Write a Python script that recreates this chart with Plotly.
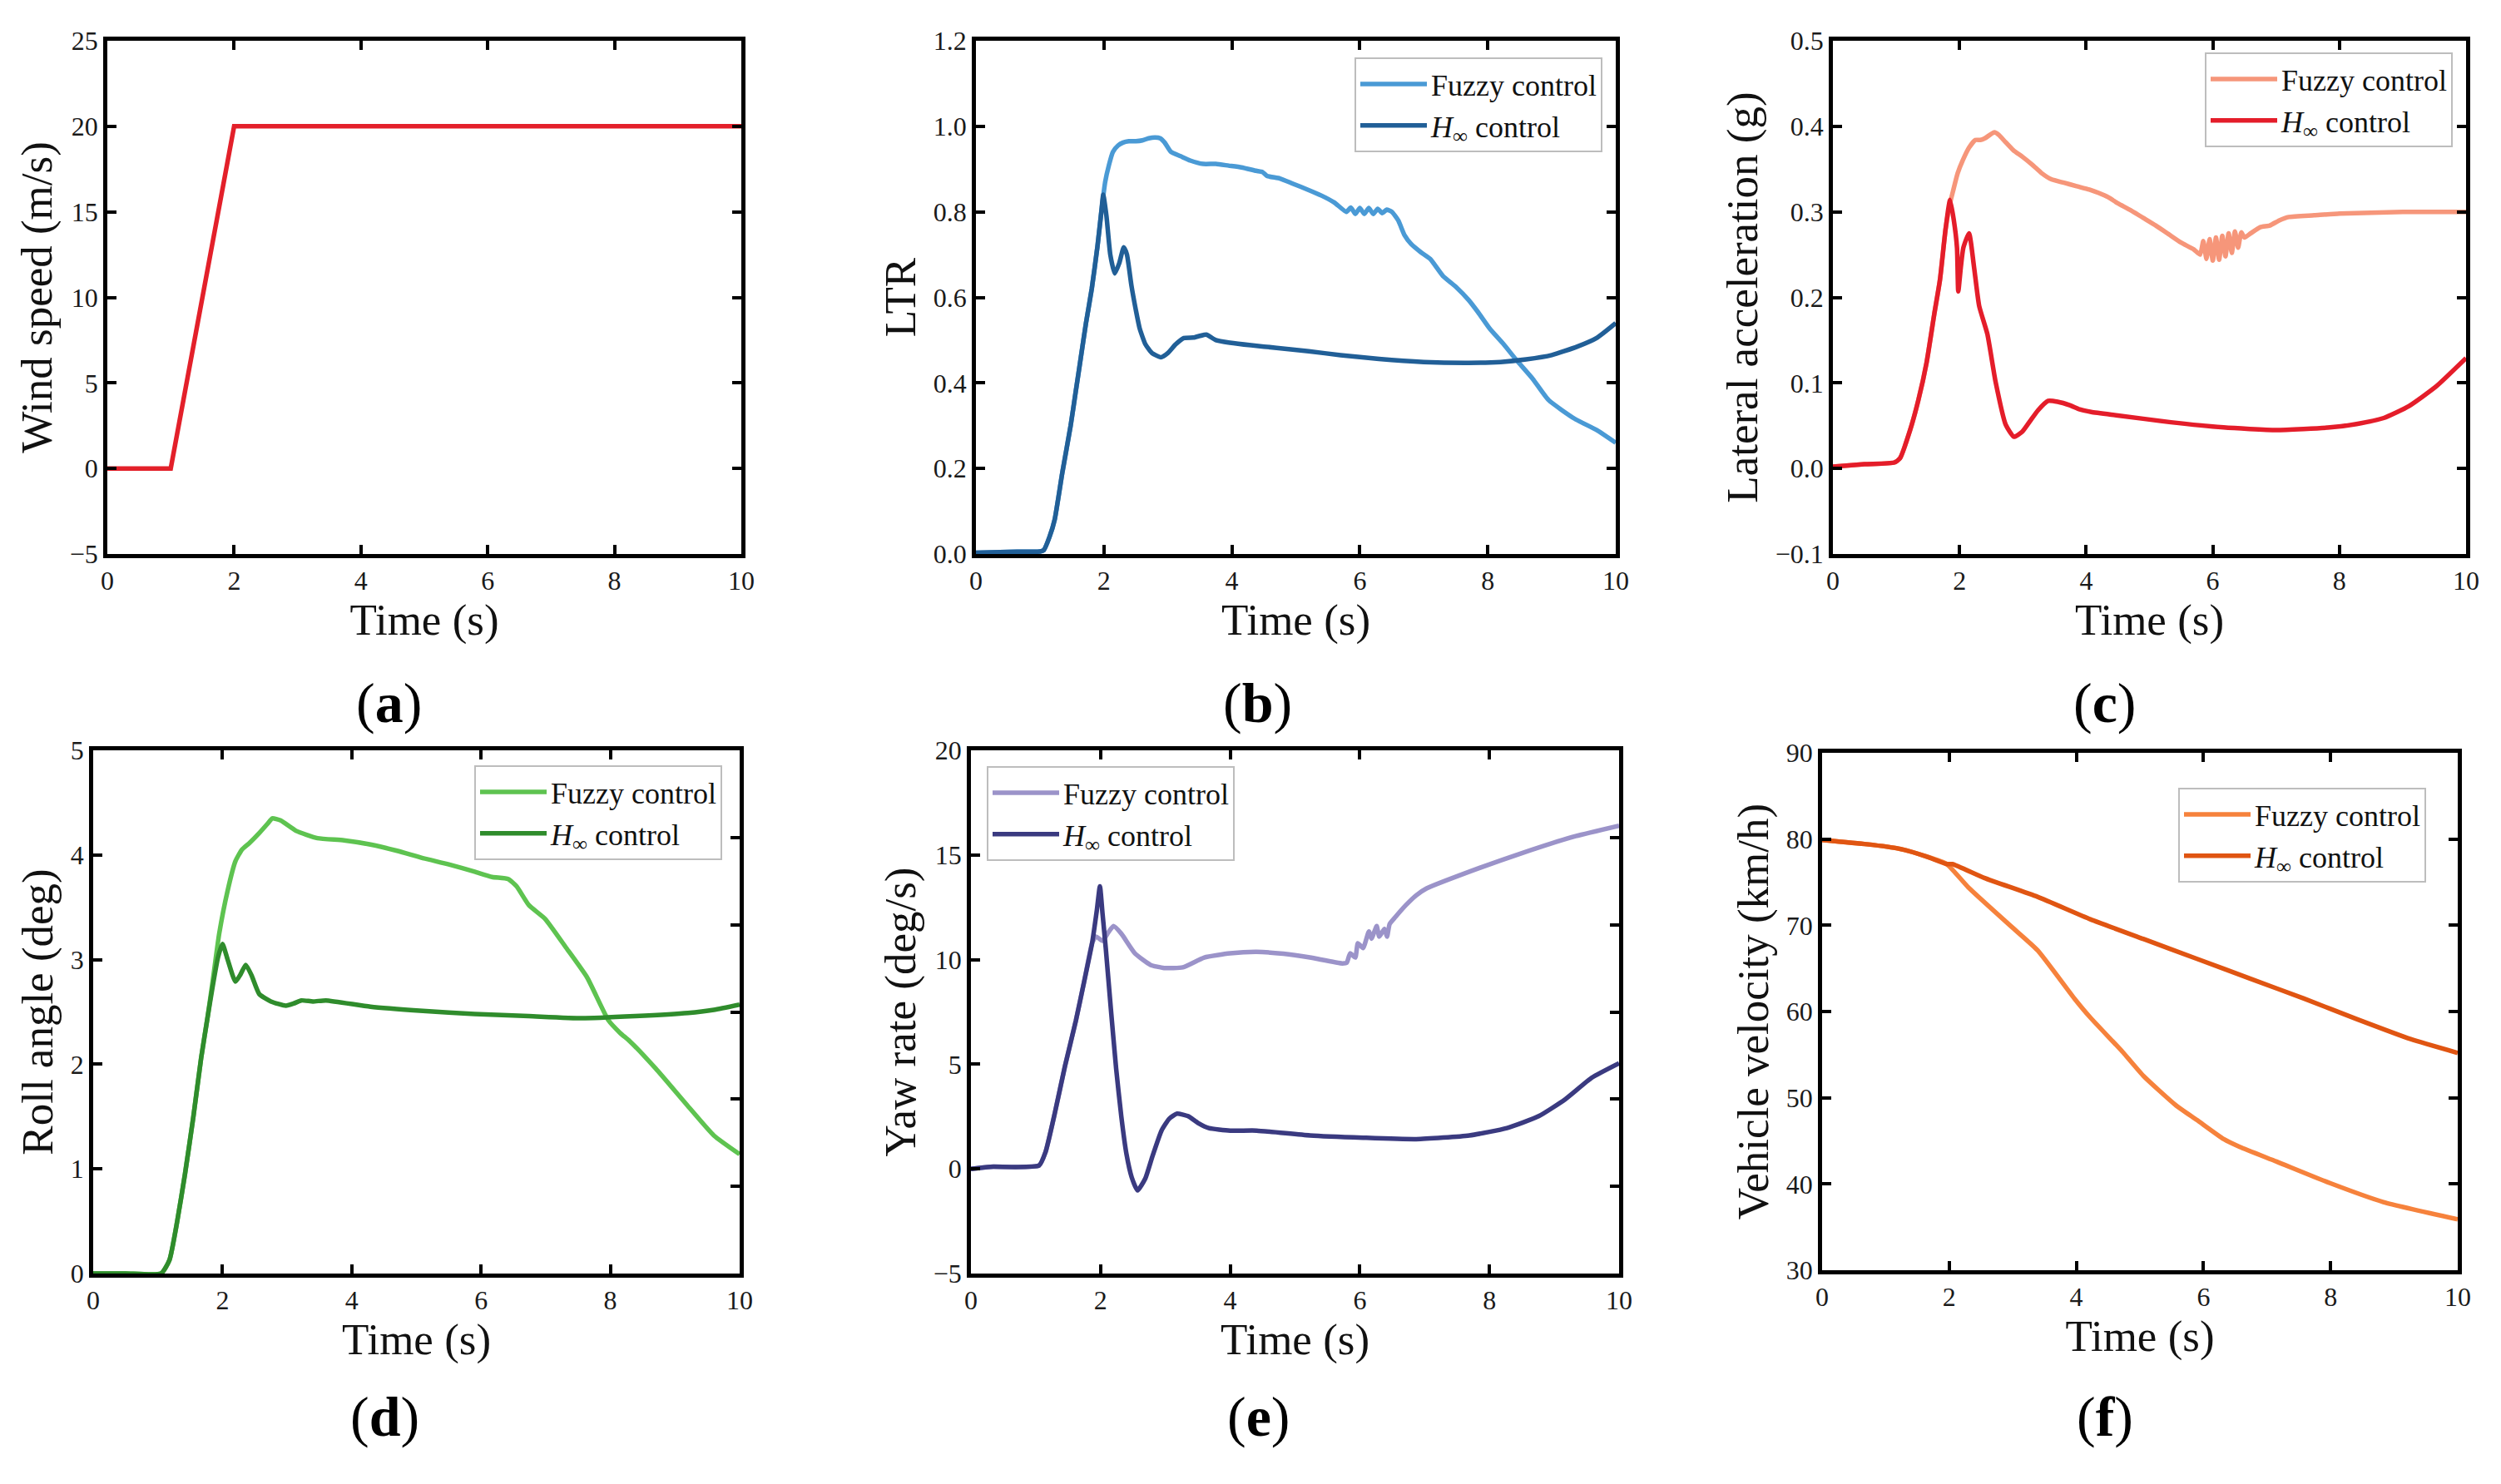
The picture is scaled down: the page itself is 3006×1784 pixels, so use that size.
import plotly.graph_objects as go

FONT = "Liberation Serif"

# ---------------- data ----------------
# (a) wind speed
t_wind = [0, 1.0, 2.0, 10.0]
wind = [0, 0, 20, 20]

# (b) LTR
t_ltr_h = [0, 0.5, 1.0, 1.06, 1.15, 1.23, 1.35, 1.48, 1.56, 1.64, 1.72, 1.81, 1.9, 1.96, 1.99,
           2.04, 2.1, 2.17, 2.24, 2.31, 2.36, 2.43, 2.5, 2.56, 2.65, 2.75, 2.89, 3.0, 3.12, 3.25,
           3.4, 3.5, 3.6, 3.75, 3.97, 4.3, 4.7, 5.2, 5.7, 6.3, 7.0, 7.7, 8.2, 8.6, 9.0, 9.4, 9.7, 10.0]
ltr_h = [0.003, 0.005, 0.006, 0.009, 0.04, 0.08, 0.19, 0.30, 0.38, 0.46, 0.54, 0.62, 0.72, 0.80, 0.84,
         0.79, 0.70, 0.656, 0.68, 0.717, 0.70, 0.628, 0.57, 0.527, 0.49, 0.47, 0.46, 0.47, 0.49, 0.505,
         0.506, 0.51, 0.513, 0.50, 0.494, 0.488, 0.482, 0.474, 0.465, 0.456, 0.449, 0.447, 0.449, 0.455,
         0.465, 0.485, 0.505, 0.54]
t_ltr_f = [0, 0.5, 1.0, 1.06, 1.15, 1.23, 1.35, 1.48, 1.56, 1.64, 1.72, 1.81, 1.9, 1.96, 2.02, 2.08,
           2.14, 2.22, 2.3, 2.39, 2.5, 2.6, 2.7, 2.8, 2.88, 2.95, 3.05, 3.2, 3.35, 3.55, 3.75, 3.95,
           4.15, 4.38, 4.48, 4.55, 4.75, 4.95, 5.2, 5.4, 5.6, 5.79, 5.86, 5.93, 6.0, 6.07, 6.14,
           6.21, 6.28, 6.35, 6.42, 6.5, 6.6, 6.7, 6.8, 6.95, 7.1, 7.3, 7.5, 7.7, 7.85, 8.03, 8.25,
           8.45, 8.7, 8.95, 9.36, 9.7, 10.0]
ltr_f = [0.003, 0.005, 0.006, 0.009, 0.04, 0.08, 0.19, 0.30, 0.38, 0.46, 0.54, 0.62, 0.72, 0.80, 0.87, 0.91,
         0.94, 0.955, 0.962, 0.965, 0.965, 0.967, 0.972, 0.974, 0.972, 0.962, 0.94, 0.93, 0.92, 0.912, 0.912, 0.908,
         0.904, 0.896, 0.893, 0.884, 0.878, 0.866, 0.851, 0.838, 0.822, 0.80, 0.81, 0.795, 0.809, 0.795, 0.809,
         0.795, 0.807, 0.797, 0.805, 0.80, 0.78, 0.745, 0.725, 0.706, 0.69, 0.65, 0.625, 0.594, 0.565, 0.527, 0.49,
         0.453, 0.41, 0.36, 0.316, 0.29, 0.26]

# (c) lateral acceleration
t_lat_h = [0, 0.5, 0.97, 1.06, 1.22, 1.35, 1.48, 1.6, 1.69, 1.78, 1.85, 1.91, 1.96, 1.98, 2.02, 2.06,
           2.15, 2.23, 2.31, 2.44, 2.57, 2.73, 2.86, 2.99, 3.12, 3.24, 3.4, 3.55, 3.74, 3.9, 4.08, 4.5,
           5.34, 6.17, 7.0, 7.85, 8.27, 8.7, 9.1, 9.53, 10.0]
lat_h = [0.002, 0.005, 0.007, 0.012, 0.045, 0.08, 0.124, 0.18, 0.22, 0.28, 0.314, 0.29, 0.258, 0.207, 0.235, 0.258,
         0.275, 0.235, 0.19, 0.157, 0.101, 0.051, 0.037, 0.043, 0.056, 0.068, 0.079, 0.078, 0.074, 0.069, 0.066, 0.062,
         0.054, 0.048, 0.045, 0.048, 0.052, 0.059, 0.073, 0.096, 0.129]
t_lat_f = [0, 0.5, 0.97, 1.06, 1.22, 1.35, 1.48, 1.6, 1.69, 1.78, 1.85, 1.9, 1.97, 2.05, 2.15, 2.25, 2.33, 2.4,
           2.48, 2.55, 2.62, 2.72, 2.85, 3.0, 3.15, 3.3, 3.45, 3.65, 3.85, 4.05, 4.2, 4.35, 4.5, 4.7, 4.9, 5.1,
           5.3, 5.5, 5.7, 5.8, 5.85, 5.9, 5.95, 6.0, 6.05, 6.1, 6.15, 6.2, 6.25, 6.3, 6.35, 6.4, 6.45, 6.5,
           6.6, 6.75, 6.9, 7.05, 7.2, 7.6, 8.0, 8.5, 9.0, 9.5, 10.0]
lat_f = [0.002, 0.005, 0.007, 0.012, 0.045, 0.08, 0.124, 0.18, 0.22, 0.28, 0.31, 0.325, 0.345, 0.36, 0.375, 0.384,
         0.384, 0.386, 0.39, 0.393, 0.39, 0.382, 0.372, 0.364, 0.355, 0.345, 0.338, 0.334, 0.33, 0.326, 0.322, 0.317,
         0.31, 0.302, 0.293, 0.284, 0.274, 0.264, 0.256, 0.25, 0.266, 0.245, 0.268, 0.243, 0.27, 0.244, 0.272, 0.248,
         0.275, 0.252, 0.277, 0.258, 0.276, 0.27, 0.275, 0.282, 0.284, 0.29, 0.294, 0.296, 0.298, 0.299, 0.3, 0.3, 0.3]

# (d) roll angle
t_roll_h = [0, 0.5, 1.05, 1.18, 1.3, 1.42, 1.55, 1.67, 1.77, 1.85, 1.93, 2.0, 2.08, 2.2, 2.28, 2.36,
            2.45, 2.57, 2.75, 2.98, 3.1, 3.22, 3.4, 3.6, 4.29, 5.1, 5.9, 6.74, 7.56, 8.38, 9.2, 9.6, 10.0]
roll_h = [0, 0, 0, 0.13, 0.5, 0.95, 1.5, 2.06, 2.45, 2.75, 3.02, 3.15, 3.0, 2.79, 2.86, 2.95,
          2.85, 2.67, 2.6, 2.56, 2.58, 2.61, 2.6, 2.61, 2.55, 2.51, 2.48, 2.46, 2.44, 2.46, 2.49, 2.52, 2.57]
t_roll_f = [0, 0.5, 1.05, 1.18, 1.3, 1.42, 1.55, 1.67, 1.77, 1.85, 1.95, 2.08, 2.2, 2.3, 2.41, 2.57, 2.7,
            2.77, 2.9, 3.14, 3.47, 3.88, 4.29, 4.7, 5.1, 5.5, 5.9, 6.17, 6.42, 6.55, 6.74, 6.99, 7.32, 7.64,
            7.97, 8.15, 8.3, 8.7, 9.2, 9.6, 10.0]
roll_f = [0, 0, 0, 0.13, 0.5, 0.95, 1.5, 2.06, 2.45, 2.8, 3.25, 3.66, 3.94, 4.05, 4.11, 4.21, 4.3,
          4.35, 4.33, 4.23, 4.16, 4.14, 4.1, 4.04, 3.97, 3.91, 3.84, 3.79, 3.77, 3.7, 3.52, 3.39, 3.11, 2.83,
          2.42, 2.3, 2.22, 1.96, 1.6, 1.32, 1.14]

# (e) yaw rate
t_yaw_h = [0, 0.3, 1.05, 1.15, 1.3, 1.45, 1.62, 1.75, 1.87, 1.94, 1.99, 2.03, 2.08, 2.16, 2.24, 2.32,
           2.4, 2.48, 2.57, 2.69, 2.8, 2.94, 3.06, 3.18, 3.35, 3.5, 3.67, 4.0, 4.41, 5.23, 6.05, 6.87,
           7.69, 8.27, 8.76, 9.17, 9.58, 10.0]
yaw_h = [0, 0.1, 0.16, 0.8, 2.75, 4.9, 7.1, 9.0, 10.8, 12.3, 13.5, 12.2, 10.55, 7.6, 4.8, 2.5,
         0.7, -0.4, -1.03, -0.46, 0.6, 1.83, 2.4, 2.64, 2.52, 2.2, 1.95, 1.83, 1.83, 1.6, 1.49, 1.42,
         1.6, 1.95, 2.52, 3.33, 4.36, 5.05]
t_yaw_f = [0, 0.3, 1.05, 1.15, 1.3, 1.45, 1.62, 1.75, 1.87, 1.93, 2.03, 2.12, 2.2, 2.32, 2.53, 2.77,
           2.98, 3.27, 3.6, 4.0, 4.41, 4.82, 5.23, 5.73, 5.8, 5.85, 5.93, 5.97, 6.05, 6.14, 6.18, 6.26,
           6.3, 6.38, 6.42, 6.46, 6.55, 6.71, 6.87, 7.03, 7.69, 8.51, 9.33, 10.0]
yaw_f = [0, 0.1, 0.16, 0.8, 2.75, 4.9, 7.1, 9.0, 10.8, 11.1, 10.9, 11.3, 11.6, 11.24, 10.3, 9.75,
         9.6, 9.63, 10.1, 10.3, 10.37, 10.28, 10.1, 9.82, 9.86, 10.3, 10.1, 10.78, 10.55, 11.35, 11.0, 11.6,
         11.1, 11.47, 11.1, 11.7, 12.04, 12.6, 13.07, 13.4, 14.2, 15.1, 15.9, 16.4]

# (f) vehicle velocity
t_vel_h = [0, 0.7, 1.2, 1.63, 1.96, 2.05, 2.55, 3.39, 4.22, 5.06, 5.9, 6.74, 7.58, 8.42, 9.26, 10.0]
vel_h = [79.9, 79.4, 78.9, 78.0, 77.1, 77.1, 75.5, 73.3, 70.7, 68.4, 66.1, 63.8, 61.5, 59.1, 56.8, 55.2]
t_vel_f = [0, 0.7, 1.2, 1.63, 1.96, 2.3, 2.97, 3.39, 3.97, 4.22, 4.73, 5.06, 5.57, 5.9, 6.32, 6.57,
           7.15, 7.99, 8.83, 10.0]
vel_f = [79.9, 79.4, 78.9, 78.0, 77.1, 74.4, 69.9, 67.1, 61.5, 59.3, 55.3, 52.5, 49.1, 47.4, 45.2, 44.3,
         42.6, 40.1, 37.9, 35.9]

# tick/range settings
y_titles = ["Wind speed (m/s)", "LTR", "Lateral acceleration (g)",
            "Roll angle (deg)", "Yaw rate (deg/s)", "Vehicle velocity (km/h)"]
y_ranges = [[-5, 25], [0, 1.2], [-0.1, 0.5], [0, 5], [-5, 20], [30, 90]]
y_dticks = [5, 0.2, 0.1, 1, 5, 10]
y_formats = ["d", ".1f", ".1f", "d", "d", "d"]
panel_labels = ["a", "b", "c", "d", "e", "f"]

FUZZY = "Fuzzy control"
HINF = "<i>H</i><sub>∞</sub> control"

# ---------------- layout geometry ----------------
# The page body adds an 8 px margin, so the figure is 16 px smaller and
# reference pixel positions are shifted by -8.
OFF = 8
W, H = 3006 - 2 * OFF, 1784 - 2 * OFF
px_x = [(129, 891), (1173, 1942), (2203, 2964), (112, 889), (1167, 1946), (2190, 2954)]
px_y = [(49, 666), (49, 666), (49, 666), (902, 1531), (902, 1531), (905, 1527)]
label_pos = [(467, 845), (1511, 845), (2530, 845), (462, 1703), (1513, 1703), (2530, 1703)]


def fx(p):
    return (p - OFF) / W


def fy(p):
    return 1 - (p - OFF) / H


def ax(i):
    return "" if i == 0 else str(i + 1)


# panels (d) and (e): the H-infinity curve is drawn on a twin y-axis with the same range,
# whose right-hand ticks sit on a six-division grid as in the reference
twin = {3: "7", 4: "8"}

series = [
    [(t_wind, wind, "#e3202a", None, None)],
    [(t_ltr_f, ltr_f, "#4a9ad5", FUZZY, "legend"), (t_ltr_h, ltr_h, "#215f97", HINF, "legend")],
    [(t_lat_f, lat_f, "#f6967a", FUZZY, "legend2"), (t_lat_h, lat_h, "#e41d2a", HINF, "legend2")],
    [(t_roll_f, roll_f, "#5ec350", FUZZY, "legend3"), (t_roll_h, roll_h, "#2f8c2c", HINF, "legend3")],
    [(t_yaw_f, yaw_f, "#9b93c9", FUZZY, "legend4"), (t_yaw_h, yaw_h, "#3a3a80", HINF, "legend4")],
    [(t_vel_f, vel_f, "#f6823c", FUZZY, "legend5"), (t_vel_h, vel_h, "#e05512", HINF, "legend5")],
]

fig = go.Figure()
for i, group in enumerate(series):
    for j, (tx, vy, col, name, leg) in enumerate(group):
        line = dict(color=col, width=5.5)
        if i > 0:
            line.update(shape="spline", smoothing=0.5)
        yref = "y" + ax(i)
        if i in twin and j == 1:
            yref = "y" + twin[i]
        kw = dict(x=tx, y=vy, mode="lines", line=line,
                  xaxis="x" + ax(i), yaxis=yref, hoverinfo="skip")
        if name is None:
            kw["showlegend"] = False
        else:
            kw["name"] = name
            kw["legend"] = leg
        fig.add_trace(go.Scatter(**kw))

tickfont = dict(family=FONT, size=32, color="#1a1a1a")
titlefont = dict(family=FONT, size=53, color="#111111")

layout = dict(width=W, height=H, margin=dict(l=0, r=0, t=0, b=0, autoexpand=False),
              paper_bgcolor="white", plot_bgcolor="white", font=dict(family=FONT))

for i in range(6):
    x0, x1 = px_x[i]
    yt, yb = px_y[i]
    xd = [fx(x0), fx(x1)]
    yd = [fy(yb), fy(yt)]
    mirror_y = "ticks" if i not in twin else True
    layout["xaxis" + ax(i)] = dict(
        domain=xd, anchor="y" + ax(i), range=[0, 10], tickvals=[0, 2, 4, 6, 8, 10],
        ticks="inside", ticklen=11, tickwidth=4, tickcolor="black",
        showline=True, linewidth=4.5, linecolor="black", mirror="ticks", automargin=False,
        showgrid=False, zeroline=False, tickfont=tickfont,
        title=dict(text="Time (s)", font=titlefont, standoff=10))
    layout["yaxis" + ax(i)] = dict(
        domain=yd, anchor="x" + ax(i), range=y_ranges[i], dtick=y_dticks[i], tick0=y_ranges[i][0],
        tickformat=y_formats[i],
        ticks="inside", ticklen=11, tickwidth=4, tickcolor="black",
        showline=True, linewidth=4.5, linecolor="black", mirror=mirror_y, automargin=False,
        showgrid=False, zeroline=False, tickfont=tickfont,
        title=dict(text=y_titles[i], font=titlefont, standoff=6))
    lx, ly = label_pos[i]
    layout.setdefault("annotations", []).append(dict(
        text="(<b>" + panel_labels[i] + "</b>)", x=fx(lx), y=fy(ly), xref="paper", yref="paper",
        showarrow=False, xanchor="center", yanchor="middle",
        font=dict(family=FONT, size=68, color="black")))

for i, k in twin.items():
    lo, hi = y_ranges[i]
    step = (hi - lo) / 6
    layout["yaxis" + k] = dict(
        overlaying="y" + ax(i), anchor="x" + ax(i), side="right", range=[lo, hi],
        tickvals=[lo + step * n for n in range(1, 6)], showticklabels=False,
        ticks="inside", ticklen=11, tickwidth=4, tickcolor="black", automargin=False,
        showline=False, showgrid=False, zeroline=False)

legend_common = dict(font=dict(family=FONT, size=36, color="#111111"), bgcolor="white",
                     bordercolor="#bdbdbd", borderwidth=2, itemwidth=80, tracegroupgap=0)
legend_pos = {
    "legend": (1926, 69, "right"),
    "legend2": (2948, 63, "right"),
    "legend3": (868, 920, "right"),
    "legend4": (1186, 921, "left"),
    "legend5": (2916, 947, "right"),
}
for name, (lx, ly, xa) in legend_pos.items():
    layout[name] = dict(x=fx(lx), y=fy(ly), xanchor=xa, yanchor="top", **legend_common)

fig.update_layout(**layout)
fig.write_html("out.html")
